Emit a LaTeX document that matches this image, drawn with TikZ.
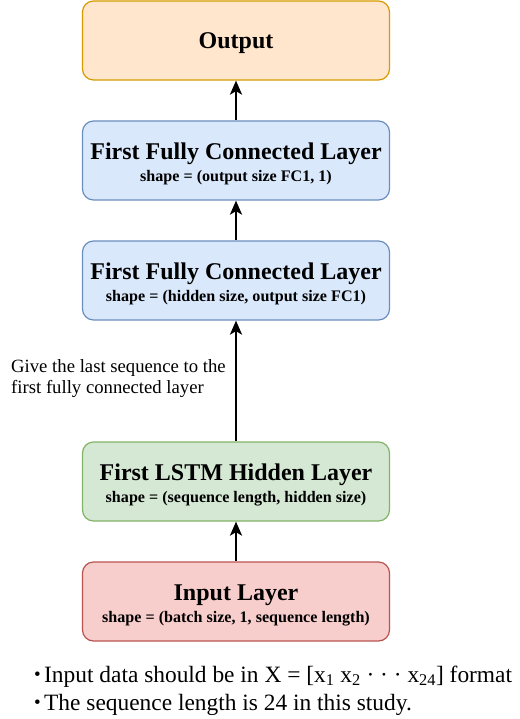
\documentclass[tikz,border=0pt]{standalone}
\usepackage{fontspec}
\setmainfont{Liberation Serif}
\usetikzlibrary{arrows.meta}
\definecolor{outfill}{HTML}{FFE6CC}\definecolor{outdraw}{HTML}{D79B00}
\definecolor{bluefill}{HTML}{DAE8FC}\definecolor{bluedraw}{HTML}{6C8EBF}
\definecolor{greenfill}{HTML}{D5E8D4}\definecolor{greendraw}{HTML}{82B366}
\definecolor{redfill}{HTML}{F8CECC}\definecolor{reddraw}{HTML}{B85450}
\tikzset{
  layerbox/.style={draw, rounded corners=11pt, minimum width=307pt, minimum height=79pt,
    line width=1.2pt, inner sep=0pt},
  ttl/.style={anchor=base, inner sep=0pt, font=\fontsize{24}{26}\selectfont\bfseries},
  sbt/.style={anchor=base, inner sep=0pt, font=\fontsize{16.1}{18}\selectfont\bfseries},
  flow/.style={line width=2.5pt, -{Stealth[length=14pt,width=12pt,inset=3.5pt]}},
  plain/.style={align=left, inner sep=0pt, anchor=base west, font=\fontsize{18.7}{21}\selectfont},
  bul/.style={inner sep=0pt, anchor=base west, font=\fontsize{23.4}{28}\selectfont},
  buldot/.style={inner sep=0pt, anchor=center, font=\fontsize{19}{19}\selectfont},
}
\begin{document}
\begin{tikzpicture}[x=1pt,y=-1pt]
\useasboundingbox[fill=white] (0,0) rectangle (519,719);
\node[layerbox, fill=outfill, draw=outdraw] (out) at (236,40.5) {};
\node[layerbox, fill=bluefill, draw=bluedraw] (fc1) at (236,160.5) {};
\node[layerbox, fill=bluefill, draw=bluedraw] (fc2) at (236,280.5) {};
\node[layerbox, fill=greenfill, draw=greendraw] (lstm) at (236,481.5) {};
\node[layerbox, fill=redfill, draw=reddraw] (inp) at (236,601.5) {};
\node[ttl] (outt) at (236,49) {Output};
\node[ttl] (fc1t) at (236,159.5) {First Fully Connected Layer};
\node[sbt] (fc1s) at (236,181.5) {shape = (output size FC1, 1)};
\node[ttl] (fc2t) at (236,279.5) {First Fully Connected Layer};
\node[sbt] (fc2s) at (236,301.5) {shape = (hidden size, output size FC1)};
\node[ttl] (lstmt) at (236,480.5) {First LSTM Hidden Layer};
\node[sbt] (lstms) at (236,502.5) {shape = (sequence length, hidden size)};
\node[ttl] (inpt) at (236,600.5) {Input Layer};
\node[sbt] (inps) at (236,622.5) {shape = (batch size, 1, sequence length)};
\draw[flow] (fc1) -- (out);
\draw[flow] (fc2) -- (fc1);
\draw[flow] (lstm) -- (fc2);
\draw[flow] (inp) -- (lstm);
\node[plain] (note) at (11,393)
  {Give the last sequence to the\\first fully connected layer};
\node[buldot] (b1dot) at (37.5,676) {•};
\node[bul] (b1) at (44,682)
  {Input data should be in X = [x\textsubscript{1} x\textsubscript{2} · · · x\textsubscript{24}] format};
\node[buldot] (b2dot) at (37.5,704) {•};
\node[bul] (b2) at (44,710) {The sequence length is 24 in this study.};
\end{tikzpicture}
\end{document}
